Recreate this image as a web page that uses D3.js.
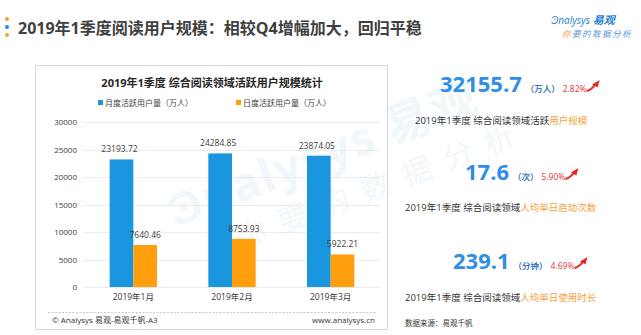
<!DOCTYPE html>
<html><head><meta charset="utf-8">
<script src="https://cdn.jsdelivr.net/npm/d3@7"></script>
<style>
html,body{margin:0;padding:0;background:#fff;}
svg{display:block;}
text{font-family:"Open Sans","Noto Sans CJK SC",sans-serif;}
</style></head>
<body>
<script>
// ---------- data ----------
const months = ["2019年1月", "2019年2月", "2019年3月"];
const mau = [23193.72, 24284.85, 23874.05];
const dau = [7640.46, 8753.93, 5922.21];
const seriesNames = ["月度活跃用户量（万人）", "日度活跃用户量（万人）"];
const yTicks = [0, 5000, 10000, 15000, 20000, 25000, 30000];
const kpiValues = ["32155.7", "17.6", "239.1"];
const kpiUnits = ["（万人）", "（次）", "（分钟）"];
const kpiGrowth = ["2.82%", "5.90%", "4.69%"];
const kpiCaptionA = ["2019年1季度 综合阅读领域活跃", "2019年1季度 综合阅读领域", "2019年1季度 综合阅读领域"];
const kpiCaptionB = ["用户规模", "人均单日启动次数", "人均单日使用时长"];

const W = 641, H = 335;
const BLUE = "#1a96de", ORANGE = "#ff9f0d";
const svg = d3.select("body").append("svg").attr("width", W).attr("height", H);

// ---------- page title ----------
[["#f5a623", 19], ["#1e88e5", 27], ["#f5a623", 35]].forEach(([c, y]) =>
  svg.append("circle").attr("cx", 7).attr("cy", y).attr("r", 2).attr("fill", c));
svg.append("text").attr("x", 18).attr("y", 34).attr("font-size", 16).attr("font-weight", "bold")
  .attr("fill", "#404040").text("2019年1季度阅读用户规模：相较Q4增幅加大，回归平稳");

// logo
svg.append("text").attr("x", 551).attr("y", 24).attr("font-size", 11).attr("font-style", "italic")
  .attr("fill", "#2a7fd0").attr("font-weight", "bold")
  .html('<tspan font-weight="normal" font-size="10">Ͽnalysys</tspan> 易观');
svg.append("text").attr("x", 562).attr("y", 37).attr("font-size", 8.5).attr("font-style", "italic")
  .attr("letter-spacing", 1.5).attr("fill", "#5a9bd8")
  .html('<tspan fill="#f39c3a">你</tspan>要的数据分析');

// ---------- chart panel ----------
svg.append("rect").attr("x", 35.5).attr("y", 65.5).attr("width", 352).attr("height", 264)
  .attr("fill", "#fff").attr("stroke", "#d6d6d6");

// watermark
const wm = svg.append("g").attr("transform", "translate(175,228) rotate(-21)").attr("opacity", 0.35);
wm.append("text").attr("font-size", 46).attr("font-weight", "bold").attr("fill", "#d7e9f6")
  .attr("letter-spacing", 2).text("Ͽnalysys 易观");
wm.append("text").attr("x", 55).attr("y", 44).attr("font-size", 30).attr("fill", "#d7e9f6")
  .attr("letter-spacing", 14).html('<tspan fill="#f7dede">你</tspan>要的数据分析');

svg.append("text").attr("x", 212).attr("y", 87).attr("text-anchor", "middle").attr("font-size", 11)
  .attr("font-weight", "bold").attr("fill", "#262626").text("2019年1季度 综合阅读领域活跃用户规模统计");

// legend
[[98, BLUE, seriesNames[0]], [236, ORANGE, seriesNames[1]]].forEach(([x, c, t]) => {
  svg.append("rect").attr("x", x).attr("y", 100).attr("width", 5).attr("height", 5).attr("fill", c);
  svg.append("text").attr("x", x + 7).attr("y", 106).attr("font-size", 8).attr("fill", "#404040").text(t);
});

const x0 = d3.scaleBand().domain(months).range([84, 380]).paddingInner(0.52).paddingOuter(0.26);
const x1 = d3.scaleBand().domain([0, 1]).range([0, x0.bandwidth()]);
const y = d3.scaleLinear().domain([0, 30000]).range([287, 122]);

// grid
svg.append("g").selectAll("line").data(yTicks).join("line")
  .attr("x1", 83).attr("x2", 380).attr("y1", d => Math.round(y(d)) + 0.5).attr("y2", d => Math.round(y(d)) + 0.5)
  .attr("stroke", "#ebebeb");

// y axis
const yAxis = svg.append("g").attr("transform", "translate(77,0)")
  .call(d3.axisLeft(y).tickValues(yTicks).tickSize(0).tickPadding(0).tickFormat(d3.format("d")));
yAxis.select(".domain").remove();
yAxis.selectAll("text").attr("font-size", 8).attr("fill", "#404040")
  .style("font-family", '"Open Sans","Noto Sans CJK SC",sans-serif');

// x axis
const xAxis = svg.append("g").attr("transform", "translate(0,294)")
  .call(d3.axisBottom(x0).tickSize(0).tickPadding(0));
xAxis.select(".domain").remove();
xAxis.selectAll("text").attr("font-size", 8.5).attr("fill", "#333").attr("dy", "0.75em")
  .style("font-family", '"Open Sans","Noto Sans CJK SC",sans-serif');

// bars
const series = [mau, dau];
const colors = [BLUE, ORANGE];
series.forEach((vals, si) => {
  const g = svg.append("g");
  g.selectAll("rect").data(vals).join("rect")
    .attr("x", (d, i) => x0(months[i]) + x1(si))
    .attr("y", d => y(d))
    .attr("width", x1.bandwidth())
    .attr("height", d => y(0) - y(d))
    .attr("fill", colors[si]);
  g.selectAll("text").data(vals).join("text")
    .attr("x", (d, i) => x0(months[i]) + x1(si) + x1.bandwidth() / 2 + (si ? 0 : -2))
    .attr("y", d => y(d) - 7)
    .attr("text-anchor", "middle").attr("font-size", 8.5).attr("fill", "#404040")
    .text(d => d3.format(".2f")(d));
});

// footer
svg.append("line").attr("x1", 48).attr("x2", 376).attr("y1", 312.5).attr("y2", 312.5)
  .attr("stroke", "#c8c8c8").attr("stroke-dasharray", "2,1.5");
svg.append("text").attr("x", 52).attr("y", 323).attr("font-size", 8).attr("fill", "#333")
  .text("© Analysys 易观-易观千帆-A3");
svg.append("text").attr("x", 375).attr("y", 323).attr("text-anchor", "end").attr("font-size", 8)
  .attr("fill", "#333").text("www.analysys.cn");

// ---------- KPI column ----------
const kpiX = [440, 465, 453];
const kpiY = [92, 180, 269];
const capX = [415, 405, 405];
const capY = [124, 211, 301];
function arrow(x, yb) {
  const g = svg.append("g").attr("transform", `translate(${x},${yb})`);
  g.append("path").attr("d", "M0,0 C4,-1 7,-4 9,-7").attr("fill", "none").attr("stroke", "#e5262b").attr("stroke-width", 2);
  g.append("path").attr("d", "M5.5,-6.5 L13,-11 L11,-3.5 Z").attr("fill", "#e5262b");
}
kpiValues.forEach((v, i) => {
  const t = svg.append("text").attr("x", kpiX[i]).attr("y", kpiY[i]).attr("fill", "#2f8ee5");
  t.append("tspan").attr("font-size", 22).attr("font-weight", "bold").text(v);
  t.append("tspan").attr("dx", 4).attr("font-size", 8.5).attr("font-weight", "bold").attr("fill", "#3d7cc0").text(kpiUnits[i]);
  t.append("tspan").attr("dx", 3).attr("font-size", 8.5).attr("fill", "#e0343a").text(kpiGrowth[i]);
  const bb = t.node().getBBox();
  arrow(bb.x + bb.width, kpiY[i] - 1);
  const c = svg.append("text").attr("x", capX[i]).attr("y", capY[i]).attr("font-size", 9.5).attr("fill", "#333");
  c.append("tspan").text(kpiCaptionA[i]);
  c.append("tspan").attr("fill", "#f5a23a").text(kpiCaptionB[i]);
});
svg.append("text").attr("x", 405).attr("y", 326).attr("font-size", 7.5).attr("fill", "#333").text("数据来源：易观千帆");
</script>
</body></html>
